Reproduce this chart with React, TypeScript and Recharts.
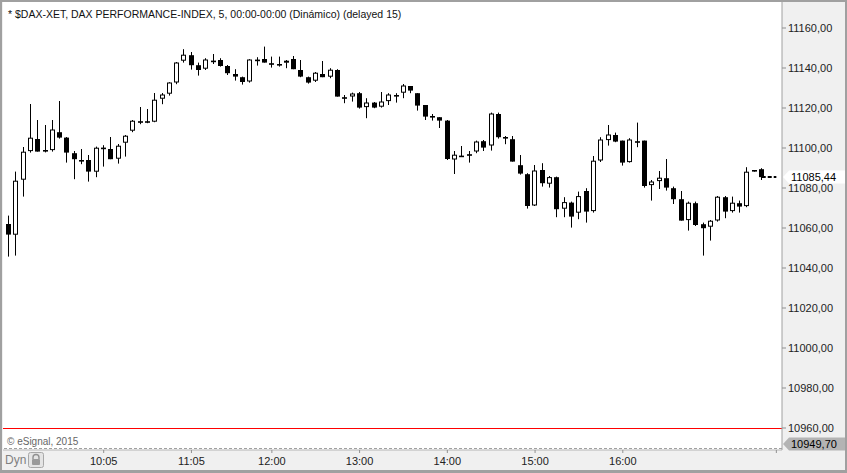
import React from "react";
import { ComposedChart, Bar, Line, XAxis, YAxis, CartesianGrid, ReferenceLine } from "recharts";

// 5-minute candles of $DAX-XET, 09:00 → 17:35
const opens = [
  11062.0, 11056.4, 11083.9, 11098.2, 11104.5, 11099.0, 11098.7, 11107.9, 11105.2, 11097.4,
  11094.0, 11094.0, 11087.9, 11100.2, 11099.5, 11094.4, 11102.4, 11108.4, 11113.4, 11113.4,
  11112.9, 11124.4, 11126.9, 11132.5, 11143.4, 11146.4, 11141.4, 11139.4, 11143.7, 11144.0,
  11141.0, 11137.0, 11135.4, 11133.0, 11144.2, 11144.5, 11142.4, 11142.0, 11142.4, 11144.5,
  11139.0, 11135.4, 11133.4, 11137.0, 11135.4, 11139.0, 11125.4, 11125.5, 11127.4, 11120.2,
  11122.7, 11120.4, 11123.2, 11126.5, 11127.4, 11131.0, 11127.4, 11121.5, 11116.0, 11115.4,
  11113.7, 11094.0, 11096.2, 11096.9, 11098.0, 11103.4, 11101.0, 11117.0, 11105.5, 11104.4,
  11091.4, 11086.9, 11071.0, 11089.0, 11081.9, 11085.4, 11069.4, 11072.7, 11067.4, 11078.5,
  11068.2, 11093.5, 11103.7, 11106.5, 11103.7, 11092.7, 11103.4, 11103.7, 11081.2, 11083.2,
  11084.9, 11079.9, 11074.4, 11063.7, 11072.4, 11061.9, 11060.4, 11063.5, 11075.4, 11068.2,
  11072.4, 11070.7, 11089.0, 11089.4,
];
const highs = [
  11066.2, 11088.2, 11100.5, 11122.0, 11114.0, 11111.5, 11114.0, 11123.5, 11105.5, 11098.5,
  11099.5, 11096.5, 11100.7, 11101.4, 11105.5, 11102.0, 11106.5, 11114.0, 11120.5, 11119.5,
  11127.5, 11127.5, 11132.9, 11143.0, 11149.4, 11148.0, 11142.7, 11144.9, 11147.0, 11144.9,
  11141.5, 11139.4, 11135.7, 11144.4, 11145.4, 11150.7, 11145.7, 11145.7, 11144.0, 11146.0,
  11144.0, 11135.7, 11138.0, 11143.5, 11139.9, 11139.4, 11126.5, 11127.7, 11128.0, 11124.9,
  11123.0, 11128.0, 11127.4, 11127.4, 11132.0, 11131.0, 11127.4, 11121.5, 11117.0, 11115.4,
  11114.0, 11098.5, 11101.0, 11098.5, 11103.7, 11104.0, 11117.7, 11117.7, 11106.0, 11106.0,
  11096.5, 11087.4, 11091.5, 11092.4, 11086.0, 11085.7, 11075.4, 11073.2, 11078.2, 11079.9,
  11096.0, 11105.4, 11111.5, 11107.7, 11103.7, 11104.9, 11112.7, 11103.7, 11084.0, 11088.5,
  11094.5, 11080.7, 11078.5, 11073.2, 11073.2, 11062.7, 11064.0, 11076.0, 11076.0, 11075.7,
  11073.7, 11090.4, 11089.0, 11089.9,
];
const lows = [
  11045.7, 11046.2, 11075.7, 11097.7, 11098.2, 11097.8, 11098.2, 11104.7, 11092.7, 11084.4,
  11091.9, 11083.2, 11085.4, 11090.7, 11094.4, 11092.2, 11095.7, 11107.9, 11111.9, 11112.4,
  11112.9, 11121.9, 11126.2, 11131.9, 11142.7, 11139.2, 11136.2, 11139.0, 11142.0, 11140.7,
  11136.5, 11133.7, 11131.7, 11132.7, 11141.2, 11142.7, 11140.2, 11140.7, 11139.9, 11139.4,
  11135.4, 11132.2, 11133.0, 11135.4, 11134.9, 11125.7, 11122.4, 11123.2, 11119.7, 11114.9,
  11119.9, 11120.2, 11121.5, 11122.7, 11124.9, 11127.4, 11118.7, 11114.0, 11113.7, 11110.0,
  11094.0, 11087.0, 11095.8, 11092.7, 11097.4, 11098.5, 11098.7, 11104.7, 11101.9, 11093.2,
  11086.7, 11069.7, 11071.0, 11080.7, 11080.2, 11065.4, 11065.4, 11060.2, 11064.4, 11062.7,
  11067.7, 11093.0, 11101.2, 11102.9, 11091.2, 11092.7, 11100.4, 11080.2, 11073.7, 11079.5,
  11078.7, 11072.0, 11063.7, 11058.7, 11061.0, 11046.2, 11053.7, 11063.2, 11064.9, 11067.7,
  11067.7, 11070.4, 11088.2, 11084.0,
];
const closes = [
  11056.7, 11083.4, 11097.9, 11104.9, 11098.2, 11098.4, 11109.0, 11105.2, 11097.7, 11094.4,
  11093.2, 11088.2, 11099.9, 11099.8, 11094.4, 11100.9, 11105.9, 11113.4, 11113.0, 11113.0,
  11123.9, 11126.5, 11132.5, 11142.5, 11146.4, 11141.4, 11139.0, 11144.0, 11143.4, 11141.0,
  11137.4, 11135.7, 11133.0, 11144.0, 11143.9, 11142.7, 11141.9, 11141.4, 11143.4, 11139.4,
  11135.7, 11132.7, 11137.4, 11135.4, 11138.9, 11125.7, 11124.9, 11127.0, 11120.2, 11122.5,
  11120.2, 11123.0, 11126.5, 11126.0, 11131.0, 11128.7, 11121.2, 11115.7, 11115.4, 11113.7,
  11094.5, 11096.4, 11095.8, 11096.4, 11103.0, 11100.2, 11117.0, 11105.4, 11104.9, 11093.2,
  11087.2, 11071.0, 11088.5, 11082.4, 11085.2, 11069.4, 11072.7, 11065.7, 11075.7, 11068.2,
  11093.4, 11104.0, 11106.5, 11103.2, 11092.7, 11104.0, 11102.7, 11081.0, 11083.0, 11084.9,
  11080.2, 11074.4, 11063.7, 11072.4, 11061.5, 11059.9, 11063.4, 11075.4, 11068.2, 11072.4,
  11070.7, 11087.9, 11088.2, 11085.44,
];

const lastPrice = 11085.44;
const lowMark = 10949.7;
const redLevel = 10960;
const yTicks = [10960, 10980, 11000, 11020, 11040, 11060, 11080, 11100, 11120, 11140, 11160];
const xTicks = ["10:05", "11:05", "12:00", "13:00", "14:00", "15:00", "16:00", "17:45"];
const extraSlots = ["17:40", "17:45"];

const pad = (n: number) => (n < 10 ? "0" + n : "" + n);
const times = opens.map((_, i) => {
  const m = 9 * 60 + i * 5;
  return pad(Math.floor(m / 60)) + ":" + pad(m % 60);
});

const data = [
  ...times.map((t, i) => ({
    time: t,
    open: opens[i],
    high: highs[i],
    low: lows[i],
    close: closes[i],
    last: i === times.length - 1 ? lastPrice : null,
  })),
  ...extraSlots.map((t) => ({ time: t, open: null, high: null, low: null, close: null, last: lastPrice })),
];

const FONT = "'Liberation Sans', Arial, sans-serif";

const Candle = (props: any) => {
  const { x, y, width, height, payload } = props;
  if (!payload || payload.high == null) return null;
  const { open, close, high, low } = payload;
  const span = high - low;
  const toY = (v: number) => (span > 0 ? y + ((high - v) / span) * height : y);
  const cx = Math.floor(x + width / 2);
  const up = close > open;
  const top = toY(Math.max(open, close));
  const bottom = toY(Math.min(open, close));
  const bodyH = Math.max(bottom - top, 1.6);
  return (
    <g>
      <line x1={cx + 0.5} x2={cx + 0.5} y1={y} y2={y + height} stroke="#000" strokeWidth={1} />
      {up ? (
        <rect x={cx - 1.5} y={top} width={4} height={Math.max(bodyH - 1, 0.6)} fill="#fff" stroke="#000" strokeWidth={1} />
      ) : (
        <rect x={cx - 2} y={top} width={5} height={bodyH} fill="#000" />
      )}
    </g>
  );
};

const PriceTag = (props: any) => {
  const { viewBox, text, fill, shift } = props;
  if (!viewBox) return null;
  const left = viewBox.x + viewBox.width + 1;
  const cy = viewBox.y + (shift || 0);
  const h = 13;
  const d = `M${left},${cy} L${left + 6},${cy - h / 2} L${left + 64},${cy - h / 2} L${left + 64},${cy + h / 2} L${left + 6},${cy + h / 2} Z`;
  return (
    <g>
      <path d={d} fill={fill} />
      <text x={left + 8} y={cy} dy="0.355em" fontSize={11} fontFamily={FONT} fill="#000">
        {text}
      </text>
    </g>
  );
};

const fmt = (v: number) => v.toFixed(2).replace(".", ",");

export default function App() {
  return (
    <div style={{ position: "absolute", left: 0, top: 0, width: 847, height: 473, background: "#f0f0f0", overflow: "hidden" }}>
      <ComposedChart width={847} height={473} data={data} margin={{ top: 2, left: 3, right: 2, bottom: 2 }} barCategoryGap={1}>
        <CartesianGrid fill="#fff" horizontal={false} vertical={false} />
        <XAxis
          dataKey="time"
          ticks={xTicks}
          interval={0}
          height={21}
          padding={{ left: 2, right: 2 }}
          tickSize={3}
          tickMargin={4}
          tickFormatter={(t: string) => (t === "17:45" ? "" : t)}
          axisLine={{ stroke: "#b4b4b4" }}
          tickLine={{ stroke: "#909090" }}
          tick={{ fontSize: 11, fontFamily: FONT, fill: "#222" }}
        />
        <YAxis
          orientation="right"
          width={63}
          domain={[10949, 11173]}
          allowDataOverflow
          ticks={yTicks}
          tickFormatter={fmt}
          tickSize={4}
          tickMargin={2}
          axisLine={{ stroke: "#a0a0a0" }}
          tickLine={{ stroke: "#909090" }}
          tick={{ fontSize: 11, fontFamily: FONT, fill: "#222", textAnchor: "start" }}
        />
        <ReferenceLine y={redLevel} stroke="#ff0000" strokeWidth={1} shapeRendering="crispEdges" />
        <ReferenceLine
          y={lowMark}
          stroke="#a0a0a0"
          strokeDasharray="3 2"
          shapeRendering="crispEdges"
          label={<PriceTag text={fmt(lowMark)} fill="#b4b4b4" shift={-4.5} />}
        />
        <ReferenceLine y={lastPrice} stroke="none" label={<PriceTag text={fmt(lastPrice)} fill="#fff" shift={0} />} />
        <Bar
          dataKey={(d: any) => (d.high == null ? null : [d.low, d.high])}
          shape={<Candle />}
          isAnimationActive={false}
        />
        <Line
          dataKey="last"
          stroke="#000"
          strokeWidth={2}
          strokeDasharray="4 2"
          dot={false}
          connectNulls={false}
          isAnimationActive={false}
        />
      </ComposedChart>
      <div style={{ position: "absolute", left: 8, top: 8, fontFamily: FONT, fontSize: 10.5, lineHeight: "13px", color: "#111", whiteSpace: "nowrap" }}>
        * $DAX-XET, DAX PERFORMANCE-INDEX, 5, 00:00-00:00 (Dinámico) (delayed 15)
      </div>
      <div style={{ position: "absolute", left: 7, top: 436, fontFamily: FONT, fontSize: 10, lineHeight: "12px", color: "#666", whiteSpace: "nowrap" }}>
        © eSignal, 2015
      </div>
      <div style={{ position: "absolute", left: 5, top: 453, fontFamily: FONT, fontSize: 12, lineHeight: "14px", color: "#808080" }}>
        Dyn
      </div>
      <svg style={{ position: "absolute", left: 28, top: 452 }} width={16} height={16}>
        <rect x={0.5} y={0.5} width={15} height={15} rx={2} fill="#e4e4e4" stroke="#a8a8a8" />
        <path d="M5,7 V5.5 a3,3 0 0 1 6,0 V7" fill="none" stroke="#909090" strokeWidth={1.4} />
        <rect x={4} y={7} width={8} height={6} rx={1} fill="#9a9a9a" />
      </svg>
      <div style={{ position: "absolute", inset: 0, borderStyle: "solid", borderColor: "#a0a0a0", borderWidth: "2px 2px 3px 2px", pointerEvents: "none" }} />
    </div>
  );
}
